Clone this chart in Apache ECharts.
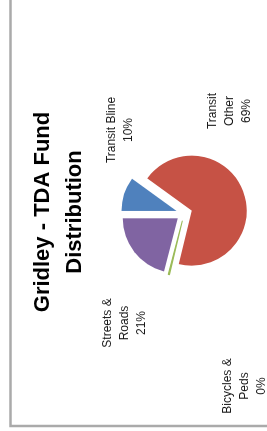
<!DOCTYPE html>
<html>
<head>
<meta charset="utf-8">
<script src="https://cdn.jsdelivr.net/npm/echarts@6/dist/echarts.min.js"></script>
<style>
  html, body { margin: 0; padding: 0; background: #fff; overflow: hidden; }
  #chart {
    position: absolute; left: 0; top: 0;
    width: 431px; height: 267px;
    transform-origin: 0 0;
    transform: translate(0px, 431px) rotate(-90deg);
  }
</style>
</head>
<body>
<div id="chart"></div>
<script>
// ---- data ----
const categories = ['Transit Bline', 'Transit Other', 'Bicycles & Peds', 'Streets & Roads'];
const labelTexts = ['Transit Bline', 'Transit\nOther', 'Bicycles &\nPeds', 'Streets &\nRoads'];
const values = [10, 69, 0.3, 21];
const colors = ['#4F81BD', '#C65245', '#9BBB59', '#8064A2'];
const titleText = 'Gridley - TDA Fund\nDistribution';

// ---- label placement (layout only, in chart coordinates) ----
const labelPos = [[301, 120], [320, 230], [45, 245], [108, 125]];

const chart = echarts.init(document.getElementById('chart'), null, { renderer: 'canvas' });

const total = values.reduce((a, b) => a + b, 0);
const percents = values.map(v => Math.round(v / total * 100));

const data = values.map((v, i) => ({
  name: categories[i],
  value: v,
  selected: true,
  itemStyle: i === 2
    ? { color: colors[i], borderColor: colors[i], borderWidth: 1.2 }
    : { color: colors[i], borderWidth: 0 }
}));

const labelGraphics = categories.map((c, i) => ({
  type: 'text',
  silent: true,
  x: labelPos[i][0],
  y: labelPos[i][1],
  style: {
    text: labelTexts[i] + '\n' + percents[i] + '%',
    align: 'center',
    verticalAlign: 'middle',
    fontFamily: 'Liberation Sans, Arial, sans-serif',
    fontSize: 12,
    lineHeight: 17,
    fill: '#1a1a1a'
  }
}));

chart.setOption({
  animation: false,
  backgroundColor: '#ffffff',
  title: {
    text: titleText,
    left: 219,
    top: 27,
    textAlign: 'center',
    padding: 0,
    textStyle: {
      fontFamily: 'Liberation Sans, Arial, sans-serif',
      fontWeight: 'bold',
      fontSize: 22,
      lineHeight: 32,
      color: '#000'
    }
  },
  graphic: [{
    type: 'rect',
    silent: true,
    shape: { x: 5, y: 10.5, width: 460, height: 300 },
    style: { fill: 'none', stroke: '#aaaaaa', lineWidth: 2.5 }
  }].concat(labelGraphics),
  series: [{
    type: 'pie',
    center: [217.6, 184.2],
    radius: 55,
    startAngle: 90,
    clockwise: true,
    selectedMode: 'multiple',
    selectedOffset: 8,
    avoidLabelOverlap: false,
    emphasis: { disabled: true },
    labelLine: { show: false },
    label: { show: false },
    data: data
  }]
});
</script>
</body>
</html>
